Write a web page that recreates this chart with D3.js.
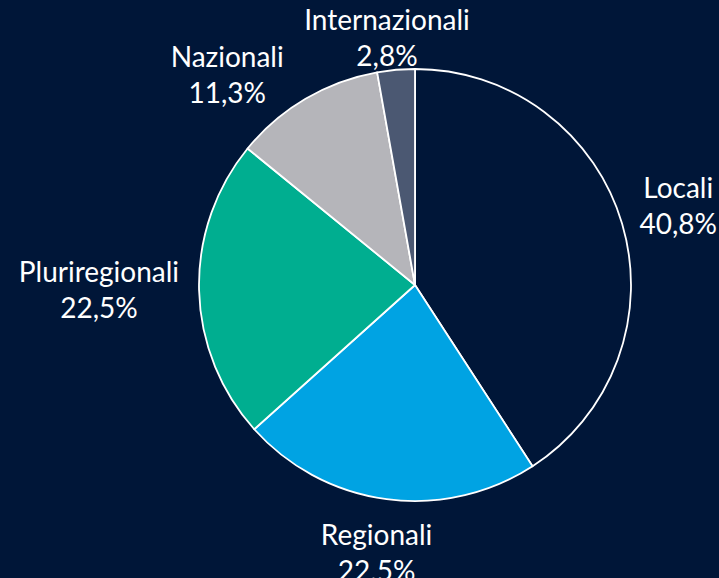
<!DOCTYPE html>
<html><head><meta charset="utf-8">
<script src="https://cdn.jsdelivr.net/npm/d3@7"></script>
<style>html,body{margin:0;padding:0;background:#001638;}svg{display:block;}</style>
</head><body>
<script>
const categories = ["Locali", "Regionali", "Pluriregionali", "Nazionali", "Internazionali"];
const values = [40.8, 22.5, 22.5, 11.3, 2.8];
const colors = ["#001638", "#00A3E3", "#00AE90", "#B5B5BA", "#4B5872"];

const W = 719, H = 578;
const cx = 415, cy = 285, R = 216;
const svg = d3.select("body").append("svg").attr("width", W).attr("height", H);
svg.append("rect").attr("width", W).attr("height", H).attr("fill", "#001638");

const data = categories.map((c, i) => ({cat: c, val: values[i], color: colors[i]}));
const pie = d3.pie().value(d => d.val).sort(null);
const arcs = pie(data);
const arc = d3.arc().innerRadius(0).outerRadius(R);
const g = svg.append("g").attr("transform", `translate(${cx},${cy})`);
g.selectAll("path").data(arcs).join("path")
  .attr("d", arc).attr("fill", d => d.data.color)
  .attr("stroke", "#fff").attr("stroke-width", 1.8).attr("stroke-linejoin", "round");

const fmt = v => d3.format(".1f")(v).replace(".", ",") + "%";
const fs = 28, lh = 36, pad = 20, gap = 20;
const labels = svg.append("g").attr("font-family", "Lato, 'Noto Sans', sans-serif")
  .attr("font-size", fs).attr("fill", "#fff").attr("text-anchor", "middle");

function place(b, th) {
  const ux = Math.sin(th), uy = -Math.cos(th);
  let x = cx + (R + pad) * ux + ux * b.w / 2;
  let y = cy + (R + pad) * uy + uy * b.h / 2;
  x = Math.max(b.w / 2 + 2, Math.min(W - b.w / 2 - 2, x));
  y = Math.max(b.h / 2 + 3, y);
  b.x = x; b.y = y; b.th = th;
}
const overlaps = (a, b) =>
  Math.abs(a.x - b.x) < (a.w + b.w) / 2 + gap && Math.abs(a.y - b.y) < (a.h + b.h) / 2;

const boxes = arcs.map(a => {
  const t = labels.append("text");
  t.append("tspan").attr("x", 0).attr("dy", 0).text(a.data.cat);
  t.append("tspan").attr("x", 0).attr("dy", lh).text(fmt(a.data.val));
  const b = {t, w: t.node().getBBox().width, h: lh * 2};
  place(b, (a.startAngle + a.endAngle) / 2);
  return b;
});
// resolve overlaps: rotate earlier label counter-clockwise until clear
for (let i = boxes.length - 1; i > 0; i--) {
  const a = boxes[i - 1], b = boxes[i];
  let k = 0;
  while (overlaps(a, b) && k < 200) { place(a, a.th - Math.PI / 360); k++; }
}
boxes.forEach(b => {
  b.t.attr("transform", `translate(${b.x},${b.y - b.h / 2 + fs * 0.95})`);
});
</script>
</body></html>
